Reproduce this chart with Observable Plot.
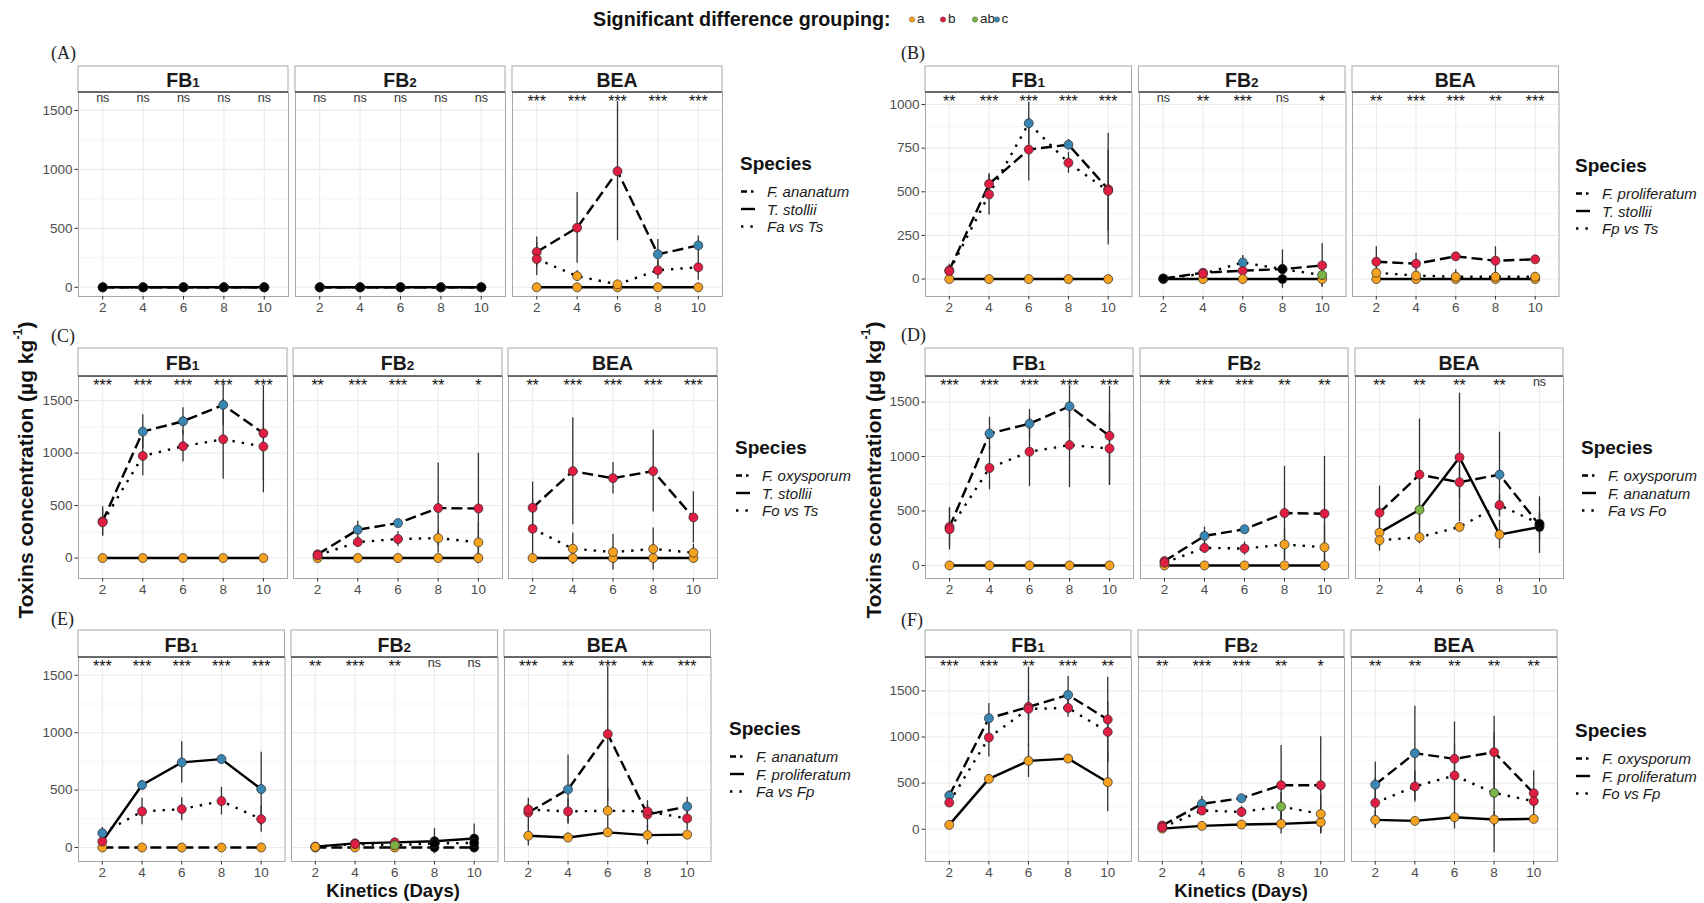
<!DOCTYPE html>
<html>
<head>
<meta charset="utf-8">
<script src="https://cdn.jsdelivr.net/npm/d3@7"></script>
<script src="https://cdn.jsdelivr.net/npm/@observablehq/plot@0.6"></script>
<style>
  body { margin: 0; background: #fff; }
  #fig { position: relative; width: 1704px; height: 903px; overflow: hidden; background: #fff;
         font-family: "Liberation Sans", Arial, sans-serif; }
</style>
</head>
<body>
<div id="fig"></div>
<script>
// ---------------- DATA ----------------
const days = [2, 4, 6, 8, 10];
const toxins = ["FB1", "FB2", "BEA"];
const groupLevels = ["a", "b", "ab", "c"];
const yTicks1500 = [0, 500, 1000, 1500];
const yTicks1000 = [0, 250, 500, 750, 1000];

const speciesA = ["F. ananatum", "T. stollii", "Fa vs Ts"];
const speciesB = ["F. proliferatum", "T. stollii", "Fp vs Ts"];
const speciesC = ["F. oxysporum", "T. stollii", "Fo vs Ts"];
const speciesD = ["F. oxysporum", "F. ananatum", "Fa vs Fo"];
const speciesE = ["F. ananatum", "F. proliferatum", "Fa vs Fp"];
const speciesF = ["F. oxysporum", "F. proliferatum", "Fo vs Fp"];

// mean[toxin][series][day]   series: species 1, species 2, co-culture
const meanA = [
  [[0,0,0,0,0],[0,0,0,0,0],[0,0,0,0,0]],
  [[0,0,0,0,0],[0,0,0,0,0],[0,0,0,0,0]],
  [[300,505,985,280,355],[0,0,0,0,0],[240,95,25,145,170]]
];
const errA = [
  [[0,0,0,0,0],[0,0,0,0,0],[0,0,0,0,0]],
  [[0,0,0,0,0],[0,0,0,0,0],[0,0,0,0,0]],
  [[126,300,590,125,80],[0,0,0,0,0],[140,45,20,75,110]]
];
const grpA = [
  ["n n n n n","n n n n n","n n n n n"],
  ["n n n n n","n n n n n","n n n n n"],
  ["b b b c c","a a a a a","b a a b b"]
];
const sigA = [
  ["ns","ns","ns","ns","ns"],
  ["ns","ns","ns","ns","ns"],
  ["***","***","***","***","***"]
];

const meanB = [
  [[50,545,742,770,515],[0,0,0,0,0],[45,485,893,666,505]],
  [[3,36,48,57,78],[0,0,0,0,0],[3,30,95,57,23]],
  [[99,88,130,105,113],[0,0,0,0,0],[36,20,13,13,13]]
];
const errB = [
  [[35,50,180,30,320],[0,0,0,0,0],[30,120,120,60,230]],
  [[5,10,10,110,126],[0,0,0,0,0],[5,10,40,50,60]],
  [[86,60,15,80,20],[0,0,0,0,0],[20,25,40,25,15]]
];
const grpB = [
  ["b b b c b","a a a a a","b b c b b"],
  ["n b b n b","n a a n a","n b c n ab"],
  ["b b b b b","a a a a a","a a a a a"]
];
const sigB = [
  ["**","***","***","***","***"],
  ["ns","**","***","ns","*"],
  ["**","***","***","**","***"]
];

const meanC = [
  [[350,1205,1303,1459,1189],[0,0,0,0,0],[340,973,1065,1132,1062]],
  [[35,270,333,476,472],[0,0,0,0,0],[25,152,181,190,149]],
  [[479,828,761,828,387],[0,0,0,0,0],[279,89,57,86,51]]
];
const errC = [
  [[140,160,130,195,455],[0,0,0,0,0],[130,190,150,380,440]],
  [[15,80,30,430,527],[0,0,0,0,50],[10,50,70,70,190]],
  [[245,510,150,390,245],[0,0,0,0,0],[280,150,170,200,80]]
];
const grpC = [
  ["b c c c b","a a a a a","b b b b b"],
  ["b c c b b","a a a a a","b b b a a"],
  ["b b b b b","a a a a a","b a a a a"]
];
const sigC = [
  ["***","***","***","***","***"],
  ["**","***","***","**","*"],
  ["**","***","***","***","***"]
];

const meanD = [
  [[353,1211,1302,1461,1190],[0,0,0,0,0],[332,895,1044,1105,1074]],
  [[40,271,332,481,475],[0,0,0,0,0],[25,161,155,192,167]],
  [[484,834,764,834,370],[301,511,992,283,353],[231,259,353,554,383]]
];
const errD = [
  [[180,150,130,195,455],[0,0,0,0,0],[190,200,320,390,340]],
  [[15,80,30,430,527],[0,0,0,0,0],[10,50,60,150,200]],
  [[245,510,150,390,260],[130,250,590,130,120],[100,60,40,100,100]]
];
const grpD = [
  ["b c c c b","a a a a a","b b b b b"],
  ["b c c b b","a a a a a","b b b a a"],
  ["b b b c n","a ab b a n","a a a b n"]
];
const sigD = [
  ["***","***","***","***","***"],
  ["**","***","***","**","**"],
  ["**","**","**","**","ns"]
];

const meanE = [
  [[0,0,0,0,0],[52,544,741,770,509],[125,314,334,404,247]],
  [[0,0,0,0,0],[8,36,45,55,78],[5,30,20,35,40]],
  [[305,506,988,288,357],[102,87,132,108,112],[331,314,320,314,253]]
];
const errE = [
  [[0,0,0,0,0],[40,40,180,15,320],[50,115,100,120,115]],
  [[0,0,0,0,0],[5,10,15,110,126],[5,10,10,40,50]],
  [[125,300,590,120,80],[90,40,25,85,20],[50,110,190,60,100]]
];
const grpE = [
  ["a a a a a","b c c c c","c b b b b"],
  ["a a a n n","b b b n n","a b ab n n"],
  ["b c b b c","a a a a a","b b a b b"]
];
const sigE = [
  ["***","***","***","***","***"],
  ["**","***","**","ns","ns"],
  ["***","**","***","**","***"]
];

const meanF = [
  [[365,1203,1326,1456,1189],[47,546,741,766,510],[289,994,1305,1315,1055]],
  [[40,275,336,477,477],[7,36,51,58,76],[20,202,188,246,166]],
  [[484,824,763,835,390],[101,90,130,105,112],[286,463,582,394,304]]
];
const errF = [
  [[50,160,430,200,460],[40,40,180,15,320],[40,210,130,100,330]],
  [[15,80,30,430,527],[5,10,15,110,126],[10,50,60,150,200]],
  [[245,510,150,390,245],[90,40,25,85,20],[270,170,580,650,80]]
];
const grpF = [
  ["c c b c b","a a a a a","b b b b b"],
  ["b c c b b","a a a a a","b b b ab a"],
  ["c c b b b","a a a a a","b b b ab b"]
];
const sigF = [
  ["***","***","**","***","**"],
  ["**","***","***","**","*"],
  ["**","**","**","**","**"]
];

// ---------------- STYLE / LAYOUT ----------------
const groupColors = {a: "#F6A21E", b: "#E01D42", ab: "#7AB445", c: "#3A86B3", n: "#000000"};
const dashes = ["11,5", null, "2.4,7"];
const xDomain = [0.8, 11.2];
const FONT = "Liberation Sans, Arial, sans-serif";

const panels = {
  A: {mean: meanA, err: errA, grp: grpA, sig: sigA, species: speciesA, ticks: yTicks1500,
      left: 78, fw: 210, gap: 7, stripTop: 66, top: 92, bottom: 296, yDomain: [-78, 1652],
      label: [51, 53], legend: [740, 163]},
  B: {mean: meanB, err: errB, grp: grpB, sig: sigB, species: speciesB, ticks: yTicks1000,
      left: 925, fw: 206.5, gap: 7, stripTop: 66, top: 92, bottom: 296, yDomain: [-100, 1069],
      label: [901, 53], legend: [1575, 165]},
  C: {mean: meanC, err: errC, grp: grpC, sig: sigC, species: speciesC, ticks: yTicks1500,
      left: 78, fw: 209, gap: 6, stripTop: 348, top: 376, bottom: 578, yDomain: [-195, 1730],
      label: [51, 336], legend: [735, 447]},
  D: {mean: meanD, err: errD, grp: grpD, sig: sigD, species: speciesD, ticks: yTicks1500,
      left: 925, fw: 208, gap: 7, stripTop: 348, top: 376, bottom: 578, yDomain: [-120, 1735],
      label: [901, 335], legend: [1581, 447]},
  E: {mean: meanE, err: errE, grp: grpE, sig: sigE, species: speciesE, ticks: yTicks1500,
      left: 78, fw: 206.5, gap: 6.5, stripTop: 630, top: 657, bottom: 861, yDomain: [-122, 1655],
      label: [51, 619], legend: [729, 728]},
  F: {mean: meanF, err: errF, grp: grpF, sig: sigF, species: speciesF, ticks: yTicks1500,
      left: 925, fw: 206, gap: 7, stripTop: 630, top: 657, bottom: 861, yDomain: [-350, 1862],
      label: [901, 620], legend: [1575, 730]}
};

const fig = document.getElementById("fig");

function minorTicks(ticks, domain) {
  const step = ticks[1] - ticks[0];
  const out = [];
  for (let v = Math.ceil((domain[0] - step / 2) / step) * step + step / 2; v < domain[1]; v += step) {
    if (v > domain[0]) out.push(v);
  }
  return out;
}

function drawFacet(P, ti) {
  const L = panels[P];
  const x0 = L.left + ti * (L.fw + L.gap);
  const first = ti === 0;
  const ml = first ? 48 : 2, mr = 2, mt = 2, mb = 30;
  const h = L.bottom - L.top;
  const rows = [];
  for (let s = 0; s < 3; s++) {
    const g = L.grp[ti][s].split(" ");
    for (let d = 0; d < days.length; d++) {
      rows.push({day: days[d], s, v: L.mean[ti][s][d], e: L.err[ti][s][d], g: g[d]});
    }
  }
  const sig = L.sig[ti];
  const marks = [
    Plot.ruleY(minorTicks(L.ticks, L.yDomain), {stroke: "#ececec", strokeWidth: 0.6}),
    Plot.ruleY(L.ticks, {stroke: "#ebebeb", strokeWidth: 1.1}),
    Plot.ruleX(days, {stroke: "#ebebeb", strokeWidth: 1.1}),
    Plot.frame({stroke: "#a8a8a8", strokeWidth: 1}),
    Plot.axisX({ticks: days, tickSize: 3.5, tickPadding: 2, tickFormat: d => String(d), label: null,
                fontSize: 13.5, fill: "#4d4d4d", stroke: "#333"})
  ];
  if (first) {
    marks.push(Plot.axisY({ticks: L.ticks, tickSize: 3.5, tickPadding: 2.5, tickFormat: d => String(d),
                           label: null, fontSize: 13.5, fill: "#4d4d4d", stroke: "#333"}));
  }
  for (let s = 0; s < 3; s++) {
    const opts = {x: "day", y: "v", stroke: "#000", strokeWidth: 2.4, strokeLinecap: "butt"};
    if (dashes[s]) opts.strokeDasharray = dashes[s];
    marks.push(Plot.line(rows.filter(r => r.s === s), opts));
  }
  marks.push(Plot.ruleX(rows.filter(r => r.e > 0), {x: "day", y1: r => r.v - r.e, y2: r => r.v + r.e,
                                                  stroke: "#333", strokeWidth: 1.3}));
  marks.push(Plot.dot(rows, {x: "day", y: "v", r: 4.5, fill: r => groupColors[r.g], stroke: "#2a2a2a", strokeWidth: 0.7}));
  const idx = days.map((d, i) => i);
  marks.push(Plot.text(idx.filter(i => sig[i] === "ns"), {x: i => days[i], text: i => sig[i], frameAnchor: "top",
                       dy: 1, fontSize: 12.5, fill: "#333"}));
  marks.push(Plot.text(idx.filter(i => sig[i] !== "ns"), {x: i => days[i], text: i => sig[i], frameAnchor: "top",
                       dy: 3, fontSize: 16, fill: "#111"}));

  const svg = Plot.plot({
    width: L.fw + ml + mr, height: h + mt + mb,
    marginLeft: ml, marginRight: mr, marginTop: mt, marginBottom: mb,
    x: {domain: xDomain, label: null},
    y: first ? {domain: L.yDomain, label: null} : {domain: L.yDomain, label: null, axis: null},
    color: {type: "identity"},
    style: {fontFamily: FONT, fontSize: "13.5px", background: "transparent", overflow: "visible"},
    marks
  });
  svg.style.position = "absolute";
  svg.style.left = (x0 - ml) + "px";
  svg.style.top = (L.top - mt) + "px";
  fig.appendChild(svg);
}

for (const P of Object.keys(panels)) for (let ti = 0; ti < 3; ti++) drawFacet(P, ti);

// ---------------- OVERLAY (strips, labels, legends, titles) ----------------
const ov = d3.create("svg").attr("width", 1704).attr("height", 903)
  .style("position", "absolute").style("left", 0).style("top", 0)
  .style("pointer-events", "none").style("font-family", FONT);

for (const P of Object.keys(panels)) {
  const L = panels[P];
  for (let ti = 0; ti < 3; ti++) {
    const x0 = L.left + ti * (L.fw + L.gap);
    ov.append("rect").attr("x", x0).attr("y", L.stripTop).attr("width", L.fw).attr("height", L.top - L.stripTop)
      .attr("fill", "#fff").attr("stroke", "#a8a8a8").attr("stroke-width", 1);
    ov.append("line").attr("x1", x0).attr("x2", x0 + L.fw).attr("y1", L.top).attr("y2", L.top)
      .attr("stroke", "#4d4d4d").attr("stroke-width", 1.6);
    const t = ov.append("text").attr("x", x0 + L.fw / 2).attr("y", (L.stripTop + L.top) / 2 + 1)
      .attr("text-anchor", "middle").attr("dominant-baseline", "central")
      .attr("font-weight", "bold").attr("font-size", 19.5).attr("fill", "#1a1a1a");
    const name = toxins[ti];
    if (name.startsWith("FB")) {
      t.append("tspan").text("FB");
      t.append("tspan").attr("font-size", 13.5).attr("dy", 2).text(name.slice(2));
    } else t.text(name);
  }
  // panel label
  ov.append("text").attr("x", L.label[0]).attr("y", L.label[1]).attr("dominant-baseline", "central")
    .attr("font-family", "Liberation Serif, Times New Roman, serif").attr("font-size", 18).attr("fill", "#222")
    .text("(" + P + ")");
  // legend
  const [lx, ly] = L.legend;
  ov.append("text").attr("x", lx).attr("y", ly).attr("dominant-baseline", "central")
    .attr("font-weight", "bold").attr("font-size", 19).attr("fill", "#111").text("Species");
  const offs = [28.5, 46, 63.5];
  const keyDash = ["6,4,2.5,10", null, "2.4,7"];
  L.species.forEach((sp, s) => {
    const yy = ly + offs[s];
    const ln = ov.append("line").attr("x1", lx + 1).attr("x2", lx + 15).attr("y1", yy).attr("y2", yy)
      .attr("stroke", "#000").attr("stroke-width", 2.4);
    if (keyDash[s]) ln.attr("stroke-dasharray", keyDash[s]);
    ov.append("text").attr("x", lx + 27).attr("y", yy).attr("dominant-baseline", "central")
      .attr("font-style", "italic").attr("font-size", 15).attr("fill", "#1a1a1a").text(sp);
  });
}

// top legend
ov.append("text").attr("x", 593).attr("y", 18.5).attr("dominant-baseline", "central")
  .attr("font-weight", "bold").attr("font-size", 19.7).attr("fill", "#111").text("Significant difference grouping:");
const topKeys = [[912, 917], [943, 948], [975, 980], [997, 1001.5]];
groupLevels.forEach((g, i) => {
  ov.append("circle").attr("cx", topKeys[i][0]).attr("cy", 19.5).attr("r", 2.7)
    .attr("fill", groupColors[g]).attr("stroke", "#444").attr("stroke-width", 0.4);
  ov.append("text").attr("x", topKeys[i][1]).attr("y", 18.5).attr("dominant-baseline", "central")
    .attr("font-size", 13.5).attr("fill", "#222").text(g);
});

// axis titles
[25, 873].forEach(cx => {
  const t = ov.append("text").attr("transform", `translate(${cx},470) rotate(-90)`)
    .attr("text-anchor", "middle").attr("dominant-baseline", "central")
    .attr("font-weight", "bold").attr("font-size", 21).attr("fill", "#111");
  t.append("tspan").text("Toxins concentration (µg kg");
  t.append("tspan").attr("font-size", 12.5).attr("dy", -7).text("-1");
  t.append("tspan").attr("dy", 7).text(")");
});
[393, 1241].forEach(cx => {
  ov.append("text").attr("x", cx).attr("y", 890).attr("text-anchor", "middle").attr("dominant-baseline", "central")
    .attr("font-weight", "bold").attr("font-size", 18.5).attr("fill", "#111").text("Kinetics (Days)");
});

fig.appendChild(ov.node());
</script>
</body>
</html>
